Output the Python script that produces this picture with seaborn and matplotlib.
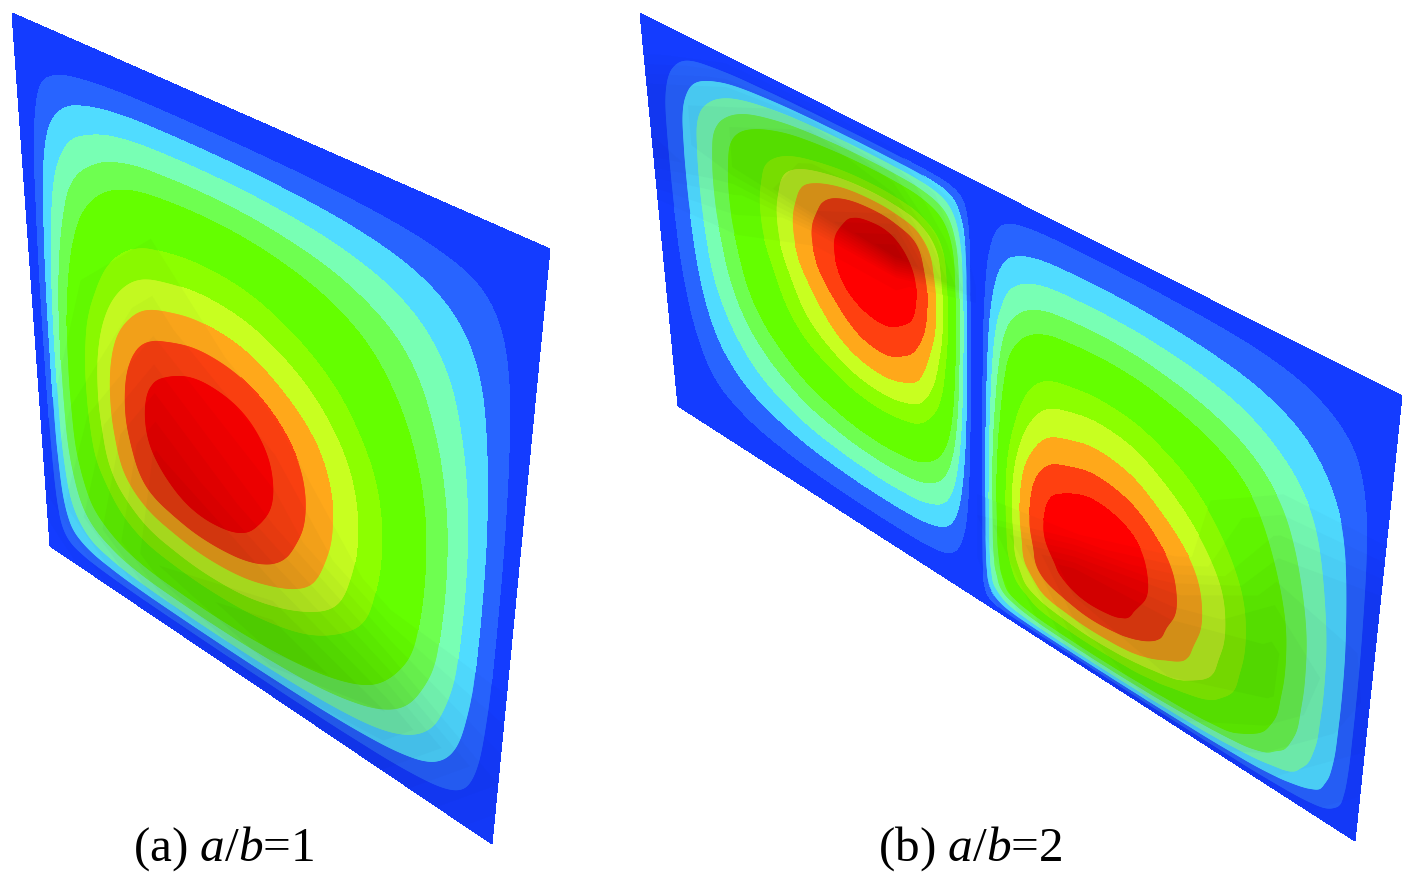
import matplotlib
matplotlib.use('Agg')
import matplotlib.pyplot as plt
from matplotlib.patches import PathPatch
import matplotlib.tri as tri
import seaborn as sns
import numpy as np

# contour height along a profile, walking across one lobe (edge, peak, edge)
# the wide main green band spans two units, hence no 6
profile_levels = [0, 1, 2, 3, 4, 5, 7, 8, 9, 10, 11, 11.5, 11.85, 12,
                  11.85, 11.5, 11, 10, 9, 8, 7, 5, 4, 3, 2, 1, 0]
band_edges = [1, 2, 3, 4, 5, 7, 8, 9, 10, 11]
corner_fill = 0.7

# where each of those heights sits on the plate
a_u = [0, .018, .03, .041, .053, .068, .104, .129, .155, .186, .228, .268, .312, .363,
       .4145, .457, .497, .565, .622, .674, .724, .815, .858, .898, .934, .968, 1]
a_v = [0, .058, .096, .135, .175, .217, .307, .36, .41, .462, .516, .552, .59, .634,
       .685, .724, .762, .80, .83, .86, .885, .926, .943, .957, .97, .983, 1]
b1_u = [0, .022, .044, .062, .082, .103, .146, .169, .191, .2166, .247, .2648, .284, .307,
        .327, .344, .359, .374, .386, .395, .402, .413, .418, .423, .428, .433, .442]
b1_v = [0, .032, .048, .063, .08, .098, .135, .155, .175, .198, .23, .2655, .304, .35,
        .394, .433, .468, .54, .595, .64, .682, .768, .812, .855, .90, .95, 1]
b2_u = [.442, .4495, .454, .459, .464, .47, .483, .492, .503, .517, .537, .5585, .584, .61,
        .6385, .664, .686, .727, .763, .796, .825, .882, .91, .937, .962, .982, 1]
b2_v = [0, .043, .102, .158, .212, .264, .362, .418, .481, .542, .601, .636, .676, .72,
        .767, .809, .847, .88, .905, .923, .94, .958, .968, .977, .985, .992, 1]

# darkening of the lit surface, rows along v, columns across the lobe
a_shade_v = [0, .2, .45, .7, .9, 1]
a_shade = [[0, 0, 0, 0, 0],
           [0, 0, 0, 0, 0],
           [0, .06, 0, 0, 0],
           [0, .18, .1, 0, 0],
           [.05, .2, .25, .2, .1],
           [0, .1, .15, .15, .05]]
b1_shade_v = [0, .08, .18, .28, .34, .5, 1]
b1_shade = [[0, 0, 0, 0, 0],
            [0, .1, .15, .1, 0],
            [.1, .15, .18, .2, 0],
            [.1, .15, .2, .3, .03],
            [.15, .08, .03, .03, 0],
            [0, 0, 0, 0, 0],
            [0, 0, 0, 0, 0]]
b2_shade_v = [0, .3, .45, .6, .7, .8, 1]
b2_shade = [[0, 0, 0, 0, 0],
            [0, 0, 0, 0, 0],
            [0, 0, 0, .08, .1],
            [0, 0, 0, .15, .12],
            [0, .02, .12, .18, .12],
            [.05, .2, .2, .18, .1],
            [0, .1, .15, .1, .05]]
shade_steps = [.025, .05, .075, .1, .125, .15, .175, .2, .225, .25, .275, .3, .325]

band_colors = ['#143CFF', '#2864FF', '#50DCFF', '#78FFB4', '#6EFF50', '#64FF00',
               '#8CFF00', '#C8FF20', '#FFA81A', '#FF4010', '#FF0000']

plate_a = [(12, 14), (550, 250), (492, 845), (50, 547)]
plate_b = [(640, 14), (1402, 397), (1355, 842), (678, 407)]

caption_a = '(a) $\\mathit{a/b}$=1'
caption_b = '(b) $\\mathit{a/b}$=2'


def plate_xy(plate, u, v):
    tl, tr, br, bl = [np.array(p, dtype=float) for p in plate]
    x = (1-u)*(1-v)*tl[0] + u*(1-v)*tr[0] + u*v*br[0] + (1-u)*v*bl[0]
    y = (1-u)*(1-v)*tl[1] + u*(1-v)*tr[1] + u*v*br[1] + (1-u)*v*bl[1]
    return x, y


def grid_triangles(nu, nv):
    idx = np.arange(nu*nv).reshape(nv, nu)
    lower = np.c_[idx[:-1, :-1].ravel(), idx[:-1, 1:].ravel(), idx[1:, 1:].ravel()]
    upper = np.c_[idx[:-1, :-1].ravel(), idx[1:, 1:].ravel(), idx[1:, :-1].ravel()]
    return np.vstack([lower, upper])


def darken(color, s):
    # blue keeps more of its strength in the reference than red and green
    return (color[0]*(1-s), color[1]*(1-.9*s), color[2]*(1-.6*s))


def draw_lobe(ax, plate, u, v, shade_v, shade, palette):
    uu, vv = np.meshgrid(u, v)
    p = np.array(profile_levels) / 12
    px, py = np.meshgrid(p, p)
    z = 12 * px*py * (1 + corner_fill*(1-px)*(1-py))
    mesh = tri.Triangulation(uu.ravel(), vv.ravel(), grid_triangles(len(u), len(v)))
    # matplotlib's own refiner rounds off the faceted contours
    fine, fine_z = tri.UniformTriRefiner(mesh).refine_field(z.ravel(), subdiv=3)
    x, y = plate_xy(plate, fine.x, fine.y)
    cs = ax.tricontourf(x, y, fine.triangles, fine_z,
                        levels=[-100] + band_edges + [100], colors=palette)
    band_paths = cs.get_paths()

    # opaque darker copies, each one clipped to where the shade reaches that step
    su, sv = np.meshgrid(np.linspace(u[0], u[-1], 5), shade_v)
    sx, sy = plate_xy(plate, su, sv)
    for s in shade_steps:
        region = ax.contourf(sx, sy, np.array(shade), levels=[s, 1], colors='none')
        clip = region.get_paths()[0]
        region.remove()
        if len(clip.vertices) == 0:
            continue
        for path, color in zip(band_paths, palette):
            if len(path.vertices) == 0:
                continue
            patch = PathPatch(path, facecolor=darken(color, s), edgecolor='none', lw=0)
            ax.add_patch(patch)
            patch.set_clip_path(clip, ax.transData)


if __name__ == '__main__':
    sns.set_theme(style='white')
    plt.rcParams['font.family'] = ['Liberation Serif', 'DejaVu Serif']
    plt.rcParams['mathtext.fontset'] = 'custom'
    plt.rcParams['mathtext.rm'] = 'Liberation Serif'
    plt.rcParams['mathtext.it'] = 'Liberation Serif:italic'

    palette = sns.color_palette(band_colors)

    fig = plt.figure(figsize=(14.18, 8.79), dpi=100)
    ax = fig.add_axes([0, 0, 1, 1])
    ax.set_xlim(0, 1418)
    ax.set_ylim(879, 0)
    ax.axis('off')

    for plate in (plate_a, plate_b):
        ax.fill(*zip(*plate), color=palette[0], lw=0)

    draw_lobe(ax, plate_a, a_u, a_v, a_shade_v, a_shade, palette)
    draw_lobe(ax, plate_b, b1_u, b1_v, b1_shade_v, b1_shade, palette)
    draw_lobe(ax, plate_b, b2_u, b2_v, b2_shade_v, b2_shade, palette)

    ax.text(224, 849, caption_a, fontsize=35.5, color='black', ha='center', va='center')
    ax.text(970, 849, caption_b, fontsize=35.5, color='black', ha='center', va='center')

    fig.savefig('out.png', dpi=100)
    plt.close(fig)
